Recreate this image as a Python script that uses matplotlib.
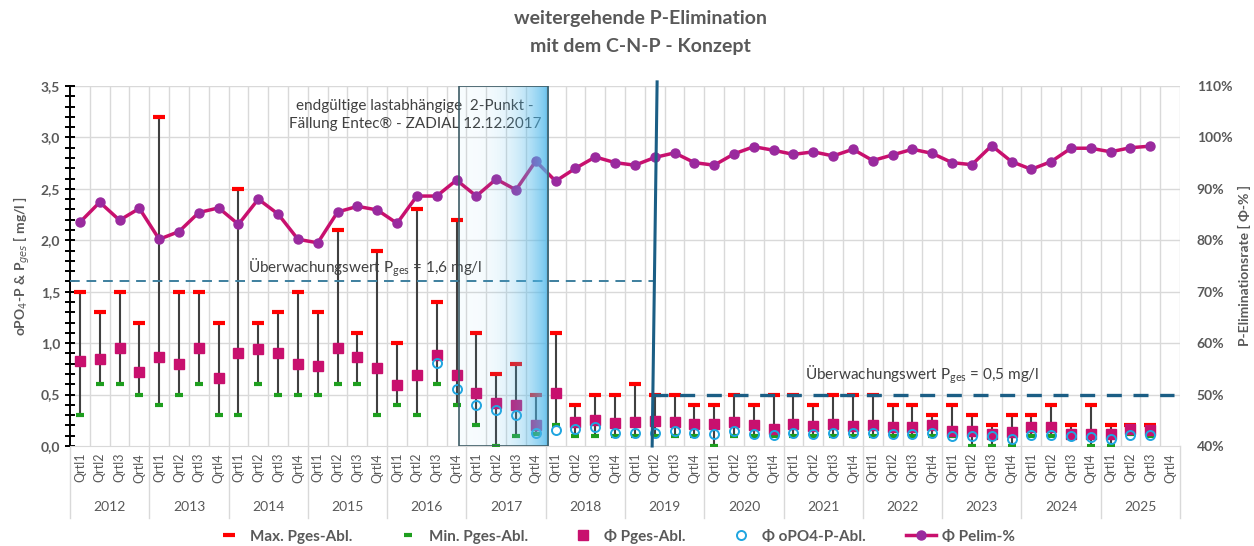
import numpy as np
import matplotlib.pyplot as plt
from matplotlib.lines import Line2D
from matplotlib.patches import Rectangle
import matplotlib.transforms as mtransforms

plt.rcParams['font.family'] = ['Lato', 'DejaVu Sans']

# ==== DATEN ====
jahre = [str(j) for j in range(2012, 2026)]
quartale = ['Qrtl1', 'Qrtl2', 'Qrtl3', 'Qrtl4']

pges_max = [1.5, 1.3, 1.5, 1.2, 3.2, 1.5, 1.5, 1.2, 2.5, 1.2, 1.3, 1.5, 1.3, 2.1, 1.1, 1.9,
            1.0, 2.3, 1.4, 2.2, 1.1, 0.7, 0.8, 0.5, 1.1, 0.4, 0.5, 0.5, 0.6, 0.5, 0.5, 0.4,
            0.4, 0.5, 0.4, 0.5, 0.5, 0.4, 0.5, 0.5, 0.5, 0.4, 0.4, 0.3, 0.4, 0.3, 0.2, 0.3,
            0.3, 0.4, 0.2, 0.4, 0.2, 0.2, 0.2, np.nan]
pges_min = [0.3, 0.6, 0.6, 0.5, 0.4, 0.5, 0.6, 0.3, 0.3, 0.6, 0.5, 0.5, 0.5, 0.6, 0.6, 0.3,
            0.4, 0.3, 0.6, 0.4, 0.2, 0.0, 0.1, 0.12, 0.2, 0.1, 0.1, 0.1, 0.1, 0.1, 0.1, 0.1,
            0.0, 0.1, 0.1, 0.1, 0.1, 0.1, 0.1, 0.1, 0.1, 0.1, 0.1, 0.1, 0.1, 0.0, 0.0, 0.0,
            0.1, 0.1, 0.1, 0.0, 0.0, 0.12, 0.1, np.nan]
pges_mittel = [0.83, 0.85, 0.95, 0.72, 0.87, 0.80, 0.95, 0.66, 0.90, 0.94, 0.90, 0.80, 0.78,
               0.95, 0.87, 0.76, 0.59, 0.69, 0.88, 0.69, 0.52, 0.42, 0.40, 0.20, 0.52, 0.23,
               0.25, 0.22, 0.23, 0.24, 0.23, 0.21, 0.21, 0.23, 0.20, 0.17, 0.21, 0.19, 0.21,
               0.19, 0.20, 0.18, 0.18, 0.20, 0.15, 0.15, 0.12, 0.14, 0.18, 0.18, 0.12, 0.12,
               0.12, 0.17, 0.16, np.nan]
opo4_mittel = [np.nan] * 18 + [0.81, 0.55, 0.40, 0.35, 0.30, 0.13, 0.16, 0.17, 0.18, 0.13,
                               0.13, 0.13, 0.15, 0.13, 0.12, 0.15, 0.12, 0.11, 0.13, 0.12,
                               0.13, 0.13, 0.13, 0.12, 0.12, 0.13, 0.10, 0.10, 0.10, 0.07,
                               0.11, 0.11, 0.10, 0.09, 0.07, 0.11, 0.11, np.nan]
pelim = [83.5, 87.4, 83.9, 86.2, 80.2, 81.7, 85.4, 86.3, 83.1, 88.0, 85.1, 80.2, 79.5,
         85.5, 86.6, 85.9, 83.3, 88.6, 88.6, 91.7, 88.6, 91.9, 89.8, 95.4, 91.5, 94.0, 96.2,
         95.1, 94.6, 96.1, 97.0, 95.1, 94.6, 96.8, 98.2, 97.5, 96.7, 97.2, 96.4, 97.7, 95.5,
         96.6, 97.7, 96.9, 95.1, 94.7, 98.4, 95.3, 93.8, 95.3, 97.9, 97.9, 97.2, 98.0, 98.3,
         np.nan]

grenzwert_alt = 1.6
grenzwert_neu = 0.5

# ==== FARBEN ====
grau_text = '#595959'
grid_farbe = '#D9D9D9'
rot = '#FF0000'
gruen = '#1E9E1E'
magenta = '#C8106E'
blau = '#1FA5E0'
lila = '#9A2A9E'
linie_dunkel = '#1B5E85'

x = np.arange(len(jahre) * 4)

fig = plt.figure(figsize=(12.54, 5.46), dpi=100)
ax = fig.add_axes([70 / 1254, 100 / 546, 1110 / 1254, 360 / 546])
ax2 = ax.twinx()

# ==== GITTER ====
for g in np.arange(0.5, 3.51, 0.5):
    ax.axhline(g, color=grid_farbe, lw=1, zorder=0)
for b in np.arange(0.5, len(x) + 0.5, 1):
    ax.axvline(b, color=grid_farbe, lw=1, zorder=0)

# ==== Pges SERIEN ====
ax.vlines(x, pges_min, pges_max, color='#404040', lw=1.5, zorder=2)
ax.plot(x, pges_max, ls='none', marker='_', color=rot, ms=8, mew=3, zorder=3)
ax.plot(x, pges_min, ls='none', marker='_', color=gruen, ms=6, mew=3, zorder=3)
ax.plot(x, pges_mittel, ls='none', marker='s', color=magenta, ms=6.5, zorder=4)
ax.plot(x, opo4_mittel, ls='none', marker='o', mfc='none', mec=blau, ms=6.5, mew=1.4, zorder=5)

# Überwachungswerte
ax.plot([-0.5, 28.9], [grenzwert_alt] * 2, ls=(0, (5, 3.5)), color='#3D7F9E', lw=1.4, zorder=3)
ax.plot([28.9, 55.2], [grenzwert_neu] * 2, ls=(0, (4.5, 3.5)), color=linie_dunkel, lw=2.4, zorder=3)
ax.text(8.5, 1.73, 'Überwachungswert P$_{\\mathregular{ges}}$ = 1,6 mg/l', fontsize=11,
        color='#404040', ha='left', va='center')
ax.text(36.6, 0.69, 'Überwachungswert P$_{\\mathregular{ges}}$ = 0,5 mg/l', fontsize=11,
        color='#404040', ha='left', va='center')
ax.text(16.9, 3.22, 'endgültige lastabhängige  2-Punkt -\nFällung Entec® - ZADIAL 12.12.2017',
        fontsize=11, color='#404040', ha='center', va='center', linespacing=1.4)

# ==== Pelim (rechte Achse) ====
ax2.plot(x, pelim, color=magenta, lw=2.5, marker='o', mfc=lila, mec=lila, ms=6.5, zorder=4)

# Kasten 2017 mit Verlauf
t = np.linspace(0, 1, 200)
rgba = np.zeros((1, len(t), 4))
rgba[..., 0] = 0.30
rgba[..., 1] = 0.72
rgba[..., 2] = 0.92
rgba[..., 3] = 0.04 + 0.80 * t ** 3
ax2.imshow(rgba, extent=[19.1, 23.62, 40, 110], aspect='auto', zorder=6, interpolation='bilinear')
ax2.add_patch(Rectangle((19.1, 40), 4.52, 70, fill=False, ec='#3E5C66', lw=1.2, zorder=7))

# Umstellung 2019
ax2.plot([29.12, 28.87], [110.8, 40], color=linie_dunkel, lw=2.2, zorder=8, clip_on=False)

# ==== ACHSEN ====
ax.set_xlim(-0.5, len(x) - 0.5)
ax.set_ylim(0, 3.5)
ax2.set_ylim(40, 110)

ax.set_yticks(np.arange(0, 3.51, 0.5))
ax.set_yticks(np.arange(0, 3.51, 0.1), minor=True)
ax.set_yticklabels([f'{v:.1f}'.replace('.', ',') for v in np.arange(0, 3.51, 0.5)],
                   fontsize=10, fontweight='bold', color=grau_text)
ax.tick_params(axis='y', which='both', direction='inout', length=7, width=1.4, color='black')
ax2.set_yticks(np.arange(40, 111, 10))
ax2.set_yticklabels([f'{v}%' for v in range(40, 111, 10)], fontsize=10, fontweight='bold',
                    color=grau_text)
ax2.tick_params(axis='y', length=0, pad=12)

ax.set_xticks(x)
ax.set_xticklabels(quartale * len(jahre), rotation=90, fontsize=9, color=grau_text)
ax.tick_params(axis='x', length=0, pad=5)

for s in ['top', 'right']:
    ax.spines[s].set_visible(False)
for s in ax2.spines:
    ax2.spines[s].set_visible(False)
ax.spines['left'].set_linewidth(1.4)
ax.spines['left'].set_color('black')
ax.spines['bottom'].set_color(grid_farbe)

trans = mtransforms.blended_transform_factory(ax.transData, ax.transAxes)
for i, j in enumerate(jahre):
    ax.text(4 * i + 1.5, -0.17, j, transform=trans, ha='center', va='center',
            fontsize=10, color=grau_text)
for i in range(len(jahre) + 1):
    ax.plot([4 * i - 0.5] * 2, [0, -0.2], transform=trans, color=grid_farbe, lw=1, clip_on=False)

ax.set_ylabel('oPO$_4$-P & P$_{ges}$ [ mg/l ]', fontsize=10, fontweight='bold', color=grau_text,
              labelpad=6)
ax2.set_ylabel('P-Eliminationsrate [ Φ-% ]', fontsize=10, fontweight='bold', color=grau_text,
               labelpad=4)

fig.text(0.511, 0.967, 'weitergehende P-Elimination', ha='center', va='center',
         fontsize=14, fontweight='bold', color=grau_text)
fig.text(0.511, 0.914, 'mit dem C-N-P - Konzept', ha='center', va='center',
         fontsize=14, fontweight='bold', color=grau_text)

# ==== LEGENDE ====
handles = [
    Line2D([], [], ls='none', marker='_', color=rot, ms=8, mew=3),
    Line2D([], [], ls='none', marker='_', color=gruen, ms=6, mew=3),
    Line2D([], [], ls='none', marker='s', color=magenta, ms=6.5),
    Line2D([], [], ls='none', marker='o', mfc='none', mec=blau, ms=6.5, mew=1.4),
    Line2D([], [], color=magenta, lw=2.5, marker='o', mfc=lila, mec=lila, ms=6.5),
]
labels = ['Max. Pges-Abl.', 'Min. Pges-Abl.', 'Φ Pges-Abl.', 'Φ oPO4-P-Abl.', 'Φ Pelim-%']
leg = fig.legend(handles, labels, loc='center', bbox_to_anchor=(0.49, 0.018), ncol=5,
                 frameon=False, fontsize=11, columnspacing=2.6, handlelength=2.0,
                 handletextpad=0.4)
for txt in leg.get_texts():
    txt.set_color(grau_text)
    txt.set_fontweight('bold')

fig.savefig('out.png', dpi=100)
